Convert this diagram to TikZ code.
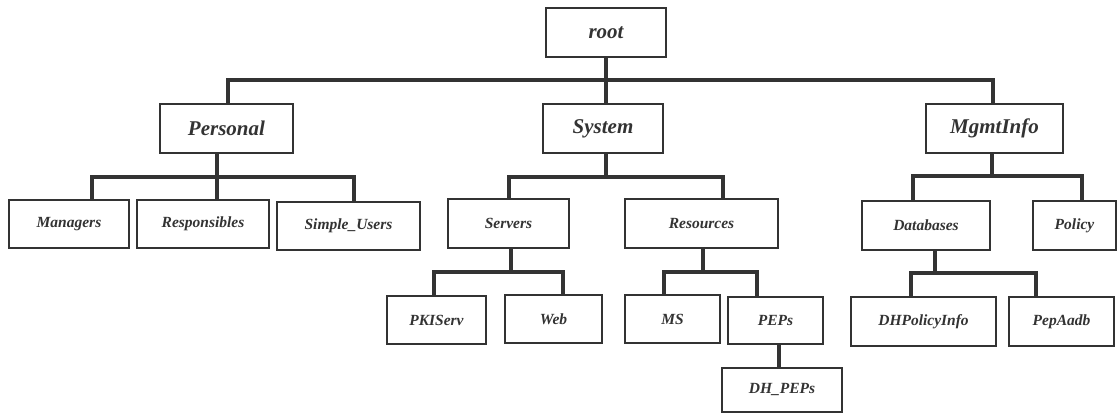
\documentclass[tikz,border=0pt]{standalone}
\usepackage{fontspec}
\setmainfont{Liberation Serif}
\usepackage{xcolor}
\definecolor{inkgray}{HTML}{333333}

\begin{document}
\begin{tikzpicture}[x=1pt, y=-1pt,
        box/.style={draw=inkgray, line width=1.5pt, inner sep=0pt, text=inkgray, minimum height=48pt, font=\fontsize{15.5}{18}\selectfont\bfseries\itshape},
        topbox/.style={box, minimum height=49pt, font=\fontsize{21}{24}\selectfont\bfseries\itshape},
        link/.style={draw=inkgray, line width=3.3pt}]
        \useasboundingbox (0,0) rectangle (1118,414);

        % top two levels
        \node[topbox, minimum width=120pt] (root)     at (606,32.5)   {root};
        \node[topbox, minimum width=133pt] (personal) at (226.5,128.5) {Personal};
        \node[topbox, minimum width=120pt] (system)   at (603,128.5)   {System};
        \node[topbox, minimum width=137pt] (mgmt)     at (994.5,128.5) {MgmtInfo};

        % third level
        \node[box, minimum width=120pt] (managers)     at (69,224)      {Managers};
        \node[box, minimum width=132pt] (responsibles) at (203,224)     {Responsibles};
        \node[box, minimum width=143pt] (simpleusers)  at (348.5,226)   {Simple\_Users};
        \node[box, minimum width=121pt, minimum height=49pt] (servers)   at (508.5,223.5) {Servers};
        \node[box, minimum width=153pt, minimum height=49pt] (resources) at (701.5,223.5) {Resources};
        \node[box, minimum width=128pt, minimum height=49pt] (databases) at (926,225.5)   {Databases};
        \node[box, minimum width=83pt,  minimum height=49pt] (policy)    at (1074.5,225.5) {Policy};

        % leaves
        \node[box, minimum width=99pt]  (pkiserv)  at (436.5,320)  {PKIServ};
        \node[box, minimum width=97pt]  (web)      at (553.5,319)  {Web};
        \node[box, minimum width=95pt]  (ms)       at (672.5,319)  {MS};
        \node[box, minimum width=95pt, minimum height=47pt]  (peps)     at (775.5,320.5) {PEPs};
        \node[box, minimum width=120pt, minimum height=44pt] (dhpeps)   at (782,390)     {DH\_PEPs};
        \node[box, minimum width=145pt, minimum height=49pt] (dhpolicy) at (923.5,321.5) {DHPolicyInfo};
        \node[box, minimum width=105pt, minimum height=49pt] (pepaadb)  at (1061.5,321.5) {PepAadb};

        % bus junctions under each parent
        \coordinate (jroot) at (606,80);
        \coordinate (jpers) at (217,177);
        \coordinate (jsys)  at (606,177);
        \coordinate (jmgmt) at (992,176);
        \coordinate (jserv) at (511,272);
        \coordinate (jres)  at (703,272);
        \coordinate (jdb)   at (935,273);

        % root
        \draw[link] (root.south) -- (jroot);
        \draw[link] (jroot) -| ([xshift=1.5pt]personal.north);
        \draw[link] (jroot) -| ([xshift=3pt]system.north);
        \draw[link] (jroot) -| ([xshift=-1.5pt]mgmt.north);

        % Personal
        \draw[link] ([xshift=-9.5pt]personal.south) -- (jpers);
        \draw[link] (jpers) -| ([xshift=23pt]managers.north);
        \draw[link] (jpers) -| ([xshift=14pt]responsibles.north);
        \draw[link] (jpers) -| ([xshift=5.5pt]simpleusers.north);

        % System
        \draw[link] ([xshift=3pt]system.south) -- (jsys);
        \draw[link] (jsys) -| ([xshift=0.5pt]servers.north);
        \draw[link] (jsys) -| ([xshift=21.5pt]resources.north);
        \draw[link] ([xshift=2.5pt]servers.south) -- (jserv);
        \draw[link] (jserv) -| ([xshift=-2.5pt]pkiserv.north);
        \draw[link] (jserv) -| ([xshift=9.5pt]web.north);
        \draw[link] ([xshift=1.5pt]resources.south) -- (jres);
        \draw[link] (jres) -| ([xshift=-8.5pt]ms.north);
        \draw[link] (jres) -| ([xshift=-18.5pt]peps.north);
        \draw[link] ([xshift=3.5pt]peps.south) -- ([xshift=-3pt]dhpeps.north);

        % MgmtInfo
        \draw[link] ([xshift=-2.5pt]mgmt.south) -- (jmgmt);
        \draw[link] (jmgmt) -| ([xshift=-13pt]databases.north);
        \draw[link] (jmgmt) -| ([xshift=7.5pt]policy.north);
        \draw[link] ([xshift=9pt]databases.south) -- (jdb);
        \draw[link] (jdb) -| ([xshift=-12.5pt]dhpolicy.north);
        \draw[link] (jdb) -| ([xshift=-25.5pt]pepaadb.north);
\end{tikzpicture}
\end{document}
